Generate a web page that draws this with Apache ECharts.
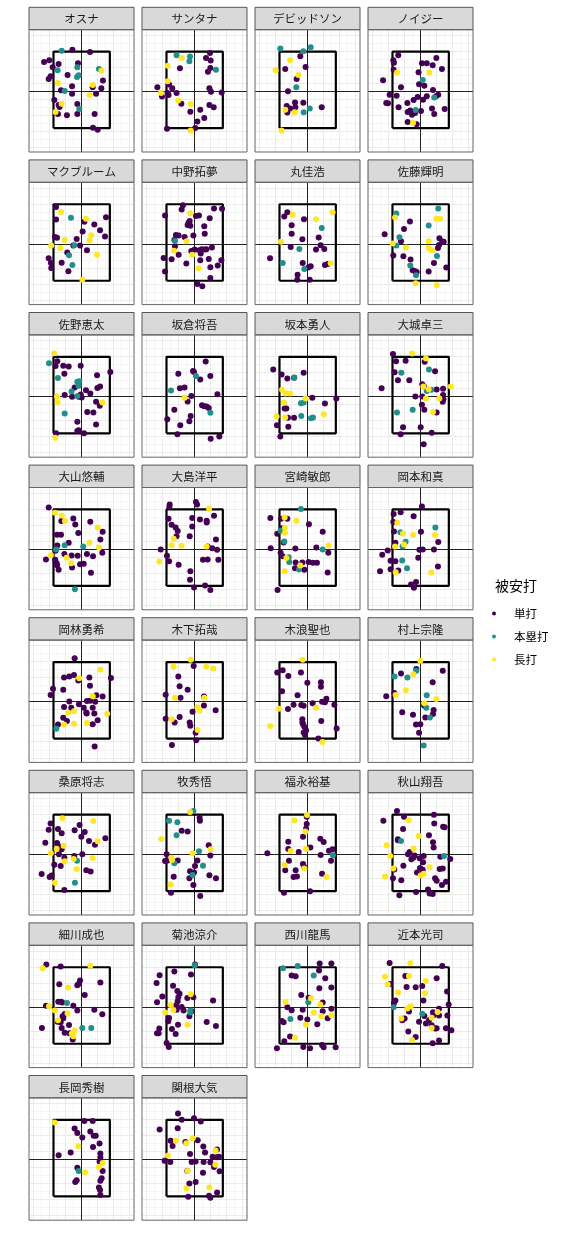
<!DOCTYPE html>
<html><head><meta charset="utf-8">
<script src="https://cdn.jsdelivr.net/npm/echarts@6/dist/echarts.min.js"></script>
<style>html,body{margin:0;padding:0;background:#fff}#c{width:576px;height:1248px}</style>
</head><body><div id="c"></div><script>
const players = ['オスナ','サンタナ','デビッドソン','ノイジー','マクブルーム','中野拓夢','丸佳浩','佐藤輝明','佐野恵太','坂倉将吾','坂本勇人','大城卓三','大山悠輔','大島洋平','宮崎敏郎','岡本和真','岡林勇希','木下拓哉','木浪聖也','村上宗隆','桑原将志','牧秀悟','福永裕基','秋山翔吾','細川成也','菊池涼介','西川龍馬','近本光司','長岡秀樹','関根大気'];
const typeNames = ['単打','本塁打','長打'];
const typeColors = ['#440154','#21908C','#FDE725'];
const zoneX = [-1.76, 1.76];
const zoneY = [-2.3, 2.48];
const xRange = [-3.29, 3.27];
const yRange = [-3.79, 3.85];
const gridStep = 0.5;

const single = [
[[-2.35,1.83],[-2.02,1.94],[-1.81,1.5],[-1.44,1.71],[-0.58,2.6],[0.52,2.46],[-0.23,1.75],[-0.88,1.02],[-1.94,0.94],[-2.06,0.77],[1.33,0.67],[-0.6,0.31],[0.69,0.25],[1.23,0.19],[-1.29,0.06],[-0.6,-0.15],[0.9,-0.15],[-1.71,-0.54],[-1.44,-0.85],[-1.38,-0.98],[-0.27,-0.79],[-1.48,-1.42],[-0.92,-1.5],[-0.27,-1.42],[0.81,-1.42],[0.71,-2.27],[1.0,-2.4]],
[[0.96,2.4],[0.71,2.08],[1.0,1.92],[-0.92,1.44],[0.98,1.46],[0.83,1.23],[-2.33,0.25],[-1.6,0.42],[-1.4,0.19],[-2.04,-0.33],[-1.69,-0.1],[-1.63,-0.23],[-1.13,-0.1],[0.92,0.19],[1.02,-0.02],[1.69,-0.08],[-0.83,-0.77],[0.92,-0.85],[1.19,-1.0],[0.35,-1.15],[-0.27,-1.27],[0.6,-1.67],[0.17,-1.88],[-1.73,-2.33],[0.04,-2.29]],
[[-0.46,2.19],[-0.13,1.52],[-1.4,1.4],[-0.69,0.77],[-1.23,0],[-1.31,-0.92],[-1.1,-1.08],[-0.77,-1.0],[-0.79,-0.69],[-0.27,-0.71],[-1.27,-1.33],[0.88,-1.0]],
[[-1.4,2.25],[-1.71,1.94],[-1.67,1.79],[-1.69,1.35],[0.98,2.08],[0.75,1.63],[1.33,1.4],[0.08,1.75],[0.38,1.75],[-0.13,1.19],[-2.35,0.69],[-1.23,0.25],[-0.1,0.44],[0.77,0.08],[0.23,0.35],[1.1,-0.21],[0.96,-0.31],[-1.94,-0.21],[-1.5,-0.27],[-2.15,-0.73],[-2.04,-0.75],[-1.38,-1.0],[-0.83,-0.73],[-0.44,-0.54],[-0.19,-0.35],[0.15,-0.52],[0.38,-0.31],[-0.81,-1.29],[-0.65,-1.19],[-0.54,-1.46],[-0.35,-1.35],[0.02,-1.23],[0.71,-1.08],[0.85,-1.42],[1.5,-1.1],[-0.81,-1.92],[-0.25,-2.06]],
[[-1.6,2.31],[-1.6,1.52],[-1.67,0.44],[-1.54,0.38],[0.17,1.38],[0.06,0.77],[0.79,1.21],[1.15,0.85],[1.52,1.67],[1.46,0.46],[-0.31,0.31],[-0.1,-0.1],[-0.52,-0.1],[0.33,-0.4],[-0.9,-0.54],[-2.06,-0.9],[-1.92,-1.19],[-1.9,-1.5],[-1.25,-1.17],[-0.83,-1.71]],
[[-0.73,2.42],[-0.81,2.15],[-1.85,1.77],[-0.31,1.44],[0.08,1.75],[0.27,1.77],[-0.44,1.19],[-0.38,1.33],[-0.27,1.13],[0.6,1.1],[0.94,1.6],[1.21,2.21],[1.71,2.19],[0.63,0.63],[-1.17,0.56],[-1.0,0.52],[-0.63,0.44],[-0.08,0.52],[-1.27,0.25],[-1.23,-0.15],[-1.0,-0.67],[-1.94,-0.88],[-1.44,-0.96],[-0.52,-1.23],[0,-0.35],[0.29,-0.4],[0.44,-0.33],[0.63,-0.35],[0.73,-0.33],[0.38,-0.6],[-0.21,-0.44],[1.08,-0.23],[0.35,-1.02],[0.88,-0.94],[0.98,-1.46],[1.44,-1.35],[1.67,-1.02],[-1.85,-1.73],[0.98,-2.13],[0.17,-2.5],[0.48,-2.65]],
[[-1.27,1.98],[-1.46,1.71],[-0.23,1.54],[-1.0,1.17],[-1.0,0.63],[-0.33,0.29],[0.69,0.4],[1.04,-0.31],[-1.06,-0.19],[0.52,-0.35],[0.81,-0.08],[-2.35,-0.9],[-0.31,-1.19],[0.19,-1.4],[0.04,-1.48],[-0.63,-1.92],[-0.65,-2.23],[0.13,-2.23],[1.08,-1.31],[1.25,-1.25]],
[[-0.67,1.4],[-1.04,0.94],[-2.25,0.6],[-1.23,0.17],[1.17,0.35],[1.35,0.15],[1.15,-0.06],[1.44,0.13],[1.08,-0.25],[-1.71,-0.73],[-1.08,-0.77],[-0.63,-0.98],[0.83,-1.19],[-0.5,-1.65],[-0.35,-1.71],[-0.25,-1.75],[0.5,-1.73],[1.6,-1.48]],
[[-1.52,2.21],[-1.63,1.9],[-1.15,1.92],[-0.81,1.88],[-0.06,1.92],[-1.08,1.42],[1.79,1.54],[0.96,1.33],[0.98,0.54],[1.15,0.63],[0.27,0.4],[0.54,0.19],[-0.44,0.56],[-1.06,0.1],[-0.6,-0.02],[-0.19,-0.02],[-0.06,0.13],[0,-0.06],[0.9,-0.33],[1.13,-0.58],[0.35,-0.96],[0.73,-1.0],[-0.27,-1.58],[0.9,-1.75],[-0.19,-2.1],[-0.27,-2.15],[0.15,-2.29],[-1.6,-2.29]],
[[0.69,2.19],[-1.02,1.42],[-0.1,1.6],[-0.04,1.54],[0.35,1.06],[0.98,1.29],[-0.92,0.52],[-0.63,0.56],[-0.21,0.04],[1.42,0.15],[-0.44,-0.31],[-1.27,-0.83],[0.46,-0.54],[0.6,-0.6],[0.75,-0.63],[0.88,-0.71],[-0.25,-1.21],[-1.71,-1.42],[-0.33,-1.54],[-0.9,-1.79],[-1.08,-2.35],[1.0,-2.63],[1.54,-2.5]],
[[-2.15,1.69],[-1.63,1.38],[-1.27,1.13],[-0.85,1.17],[-0.25,1.48],[0.29,-0.08],[1.79,-0.13],[1.08,-0.44],[-1.44,-0.75],[-1.33,-0.75],[-1.92,-1.79],[-1.23,-1.33],[-0.85,-1.33],[-1.21,-1.88],[-1.71,-2.5]],
[[-1.73,2.65],[-1.54,2.21],[-0.94,2.23],[0.25,2.17],[-1.63,1.52],[-1.42,1.02],[-0.71,1.02],[0.9,1.58],[-2.44,0.52],[0.1,0.77],[0.21,0.63],[1.0,0.44],[1.4,0.48],[-0.33,0],[0.1,0],[1.4,0.1],[1.42,-0.17],[1.38,-0.33],[0.08,-0.52],[0.23,-0.83],[1.0,-1.0],[-1.1,-1.92],[0,-1.92],[0.69,-2.27],[-1.25,-2.35],[0.19,-2.98]],
[[-2.06,2.6],[-1.27,1.75],[-0.52,1.92],[-0.4,1.54],[0.54,1.71],[-0.21,1.0],[1.31,1.08],[1.17,0.6],[1.29,-0.23],[-1.54,0.9],[-1.29,0.9],[-0.81,0.4],[-1.52,0.23],[-1.63,-0.1],[-1.08,-0.31],[-0.63,-0.4],[-0.25,-0.42],[0.33,-0.31],[0.71,-0.44],[-0.1,-0.94],[0.13,-0.92],[-2.23,-0.65],[-1.65,-0.67],[-1.56,-0.88],[-1.54,-1.0],[-1.44,-1.29],[-0.6,-1.15],[0.58,-1.48]],
[[-1.56,2.79],[-1.58,2.63],[0.08,2.94],[0.15,2.79],[-1.63,1.9],[-1.44,1.52],[-1.19,1.35],[-1.06,1.13],[-1.13,0.81],[-0.15,1.94],[0.33,1.85],[0.75,1.77],[0.75,1.67],[1.21,2.08],[-0.15,1.42],[-0.31,0.81],[1.33,0.6],[0.81,0.17],[1.1,0.06],[1.4,-0.04],[-2.12,-0.02],[-1.73,-0.42],[-1.6,-0.75],[-1.0,-0.98],[-0.27,-1.38],[-0.29,-1.92],[-0.04,-2.4],[0.52,-0.67],[0.81,-0.65],[1.48,-0.67],[0.65,-2.27],[0.98,-2.56]],
[[-2.33,1.94],[-1.67,1.9],[-1.27,1.9],[0.08,1.56],[0.94,1.08],[-1.63,1.31],[-1.9,0.96],[-1.5,0.42],[-0.77,0.04],[0.54,0.1],[1.29,-0.23],[-2.31,0.06],[-1.69,-0.23],[-1.56,-0.44],[-0.75,-0.83],[-0.33,-0.83],[-0.21,-1.29],[0.06,-0.81],[0.33,-0.85],[0.58,-0.85],[-0.79,-1.19],[1.25,-1.46],[-1.88,-2.56]],
[[0.08,2.67],[-1.69,2.19],[-1.25,2.31],[-0.44,2.06],[-1.71,1.69],[-1.67,1.1],[0.02,1.08],[-1.58,0.4],[-1.65,0.13],[1.1,0.44],[0.83,-0.02],[-0.08,-0.04],[0.13,-0.02],[-2.06,-0.08],[-2.4,-0.35],[-1.88,-0.73],[-1.58,-0.75],[-1.4,-1.33],[-1.88,-1.25],[-2.54,-1.38],[-0.15,-0.54],[1.08,-1.08],[-0.6,-2.21],[-0.42,-2.42],[-0.29,-2.06]],
[[-0.44,2.71],[-1.1,1.52],[-0.77,1.58],[-0.48,1.67],[-0.21,1.33],[0.48,1.52],[1.83,1.48],[0.52,1.0],[-1.79,0.81],[-1.15,0.75],[-1.94,0.42],[0.92,0.4],[1.31,0.33],[-0.77,0.02],[-0.17,-0.15],[0.33,0.04],[0.54,0.06],[0.85,0],[-1.1,-0.33],[-0.65,-0.38],[0.13,-0.38],[0.69,-0.38],[0.29,-0.67],[0.31,-0.73],[0.79,-0.73],[-1.15,-1.0],[-0.92,-1.21],[-1.48,-1.42],[0.69,-1.4],[1.0,-1.15],[0.81,-2.79]],
[[-0.06,2.23],[-1.02,1.58],[-0.94,0.96],[-0.44,0.75],[-0.88,0.25],[-1.81,0.44],[0.58,0.33],[0.58,-0.23],[1.31,-0.54],[-0.13,-0.63],[-0.94,-0.96],[-1.25,-1.29],[-1.81,-1.06],[-0.31,-1.29],[-0.27,-1.5],[0.06,-1.94],[0.1,-2.4],[-1.42,-2.71]],
[[-1.9,1.83],[-1.56,1.96],[-1.21,1.6],[-0.42,1.83],[-0.02,1.19],[0.83,1.21],[0.83,0.94],[-1.6,0.65],[-0.63,0.4],[1.17,0.19],[1.08,-0.04],[1.67,-0.19],[-0.88,-0.19],[-0.4,-0.21],[-0.25,-0.25],[0.31,-0.1],[0.9,0],[-1.23,-0.46],[-0.33,-1.1],[-0.33,-1.29],[-0.29,-1.4],[-0.21,-1.56],[-0.1,-1.79],[-0.25,-1.92],[-0.17,-2.08],[0.85,-1.21],[0.67,-2.29],[1.81,-1.67]],
[[1.38,1.94],[-1.23,1.77],[0.75,1.21],[-2.15,0.35],[-1.65,0.54],[-1.15,-0.65],[-0.48,-0.81],[-0.29,-1.42],[-0.02,-1.4],[-0.1,-1.94],[0.21,-0.23],[0.81,-0.52],[0.77,-0.77],[0.29,-0.98],[-0.27,2.04]],
[[-1.94,1.92],[-2.06,1.54],[-1.48,1.58],[-1.25,1.31],[-0.44,1.5],[-0.13,1.83],[0.19,1.4],[-0.02,1.1],[0.46,0.83],[0.83,0.6],[1.48,1.0],[-2.27,0.73],[-1.54,0.71],[-1.46,0.52],[-1.25,0.31],[-1.42,0],[-0.46,-0.1],[0.04,0],[-1.08,-0.21],[-1.71,-0.65],[-1.31,-0.73],[0.29,-1.0],[0.56,-1.08],[-2.5,-1.23],[-2.0,-1.42],[-1.88,-1.33],[-1.08,-2.23]],
[[0.31,2.29],[0.33,2.1],[-0.81,1.48],[-0.44,1.42],[0.88,0.56],[-1.75,0],[-1.85,-0.42],[-1.69,-0.38],[-1.06,-0.38],[0.17,-0.38],[0.98,-0.08],[0.02,-0.73],[-0.29,-1.06],[-0.04,-1.13],[-0.33,-1.5],[-0.08,-1.92],[0.92,-1.31],[1.33,-1.5],[-1.31,-1.4],[-1.48,-2.4],[0.35,-2.6]],
[[-0.06,2.35],[-0.06,1.9],[-0.1,1.6],[-0.29,1.1],[-1.21,0.79],[-1.21,0.33],[-0.56,0.15],[0.17,0.42],[0.79,0.98],[1.0,0.77],[1.33,0.23],[1.56,0.31],[0.81,-0.04],[1.46,-0.4],[-1.17,-0.4],[-2.52,0.06],[-0.29,-0.6],[-0.21,-0.79],[-1.4,-1.0],[-0.75,-1.0],[-0.88,-1.42],[-0.67,-1.38],[0.9,-1.21],[-1.48,-2.4],[0.15,-2.31]],
[[-1.48,2.71],[-2.33,2.1],[-1.04,2.35],[0.83,2.48],[0.85,1.92],[1.4,1.73],[1.5,1.69],[-1.1,1.58],[0.52,1.19],[-1.42,0.94],[-1.42,0.88],[0.77,0.75],[0.81,0.42],[-0.69,0.15],[-0.79,0],[-0.46,-0.21],[-0.38,-0.08],[-0.58,-0.31],[-0.06,-0.25],[0.19,-0.1],[1.23,-0.15],[1.85,-0.29],[0.15,-0.5],[-0.04,-0.85],[0.13,-0.96],[-1.08,-0.71],[-1.65,-0.94],[-0.23,-1.13],[1.19,-0.92],[1.38,-0.88],[0.9,-1.5],[1.0,-1.65],[1.58,-1.71],[1.33,-1.92],[-1.73,-1.5],[-1.21,-1.62],[0.46,-2.19],[0.56,-2.44],[0.75,-2.48],[-0.29,-2.35],[-1.33,-2.56]],
[[-2.21,2.65],[-1.31,2.52],[-1.4,1.42],[-0.27,1.35],[-0.1,1.65],[-0.19,1.44],[1.17,1.52],[0.19,0.75],[-1.46,0.33],[-1.29,0.33],[-1.21,0.27],[-0.52,0.08],[-2.23,0.08],[-0.27,-0.23],[0.79,-0.17],[1.29,-0.46],[-1.06,-0.44],[-1.19,-0.58],[-1.15,-0.71],[-1.31,-0.96],[-1.25,-1.31],[-0.79,-1.13],[-1.06,-1.62],[-0.77,-1.65],[-0.56,-2.04],[-2.48,-1.31],[-1.5,-0.92]],
[[0.02,2.65],[-1.27,2.21],[-0.23,2.02],[-2.19,1.98],[-2.38,1.5],[-1.35,1.33],[-1.08,1.0],[-0.94,0.83],[-1.02,0.6],[-0.46,0.56],[-0.08,0.6],[-2.02,0.65],[-1.06,0.35],[-1.15,0.1],[-0.81,0],[-2.35,0.29],[1.15,0.4],[-1.12,-0.17],[-0.69,-0.23],[-0.19,-0.27],[-1.6,-0.69],[-1.65,-0.9],[-1.04,-1.12],[-1.42,-1.38],[-2.21,-1.35],[-2.35,-1.65],[-2.25,-1.65],[-1.19,-1.69],[-0.33,-0.58],[0.75,-0.94],[1.33,-1.19],[-1.75,-2.25],[-1.62,-2.5]],
[[0.75,2.71],[1.48,2.71],[-1.0,1.96],[-0.75,1.92],[0.71,2.27],[1.1,1.79],[0.73,1.17],[1.48,1.21],[-0.4,0.75],[0.06,0.58],[0.94,0.27],[-1.27,-0.02],[-1.0,-0.21],[-0.31,-0.17],[0.94,-0.27],[1.48,-0.12],[-1.62,-0.88],[-1.5,-0.96],[-0.46,-0.67],[-0.02,-0.79],[0.6,-1.08],[1.25,-0.71],[-1.1,-1.85],[-1.46,-2.15],[-0.27,-2.5],[0.15,-2.58],[0.9,-2.38],[1.0,-2.52],[1.75,-2.52],[-1.92,-2.58]],
[[-1.94,2.75],[1.35,2.56],[-0.96,1.94],[1.0,1.79],[-1.9,1.44],[-0.88,1.25],[-0.31,1.23],[0.1,1.31],[1.65,0.96],[-1.58,0.4],[-1.67,0.25],[0.17,0.4],[-0.73,-0.29],[-1.0,-0.73],[-1.15,-0.83],[-0.1,-0.92],[0.23,-0.56],[0.52,-0.83],[0.77,-0.33],[1.15,-0.12],[1.75,0.15],[0.79,-0.54],[1.15,-0.54],[1.67,-0.54],[0.33,-1.04],[0.69,-1.15],[0.92,-1.35],[1.0,-1.33],[1.58,-1.33],[1.92,-1.46],[-0.77,-1.54],[-0.31,-1.88],[1.15,-2.1],[0.75,-2.27]],
[[0.17,2.4],[0.69,2.4],[-0.44,1.94],[-0.27,1.65],[0.54,1.75],[0.04,1.38],[0.75,1.48],[0.88,1.48],[1.12,1.0],[0.71,0.79],[-0.69,0.44],[-1.44,0.27],[1.17,0.38],[1.17,0.12],[1.12,-0.12],[-0.27,-0.52],[1.31,-0.71],[1.25,-1.17],[1.17,-1.33],[-0.31,-1.29],[-0.4,-1.4],[1.08,-1.75],[1.15,-1.9],[1.17,-2.21]],
[[-1.04,2.88],[-0.81,2.48],[-0.04,2.58],[0.38,2.38],[-2.19,1.88],[-1.06,1.96],[-0.58,1.1],[-1.5,1.17],[-1.38,0.85],[0.19,1.21],[0.54,0.81],[0.65,0.44],[1.4,0.62],[1.38,0.15],[1.12,0.17],[1.52,0.17],[-0.29,0.35],[-1.88,-0.08],[-1.52,-0.15],[-0.19,-0.15],[0.06,-0.12],[0.56,-0.15],[0.98,-0.17],[1.21,-0.46],[1.56,-0.73],[-0.46,-0.71],[0.52,-0.83],[0.06,-1.4],[-0.33,-1.5],[0.9,-2.27],[0.98,-2.38],[1.4,-2.06],[-0.4,-2.33]]
];

const homer = [
[[-1.25,2.54],[-0.27,1.5],[-1.5,1.31],[1.08,1.4],[-0.19,1.0],[-0.29,0.9],[-1.06,0.02],[-0.15,-1.1]],
[[-1.13,2.25],[-0.29,2.17],[-0.33,1.88],[1.33,1.35]],
[[-1.71,2.67],[-0.27,2.5],[0.19,2.75],[-0.71,0.25],[0.13,-1.08],[-0.25,-1.31]],
[[0.13,0.71],[0.85,-0.38],[-0.31,-1.17]],
[[-0.67,1.63],[-0.46,-0.08],[-0.79,-0.71],[-0.58,-1.31]],
[[-1.23,0.19]],
[[0.88,1.0],[-0.52,-0.31],[-1.56,-1.19],[-0.21,-1.56]],
[[1.1,2.21],[-1.52,1.9],[0.5,1.15],[-1.33,0.42],[-1.52,-0.1],[1.02,-0.75],[-0.65,-1.35],[-0.29,-1.96]],
[[-2.04,2.08],[-1.48,1.15],[-0.27,0.92],[-0.15,0.96],[-0.19,0.67],[-0.63,0.31],[-1.06,-1.06],[-0.27,0.04]],
[[0.08,1.29],[-1.48,0.38],[0.98,-1.02]],
[[-0.83,1.19],[-0.42,-0.42],[-0.25,-0.38],[-0.4,-1.21],[0.21,-1.35],[0.33,-1.31]],
[[-1.21,1.48],[0.52,1.69],[0.67,0.42],[0.38,0.35],[-1.48,-1.0],[-0.5,-0.83]],
[[-1.06,0.25],[0.1,0.17],[-0.42,-2.5],[-1.6,-0.02]],
[],
[[-0.42,2.5],[-1.69,1.15],[-1.46,0.48],[-1.19,-0.5],[-1.15,-0.81],[0.94,-0.02],[-0.54,-1.27]],
[[0.92,1.35],[-1.27,1.06],[-0.94,0.46],[-1.13,0.17],[-1.15,-0.71],[-0.85,-1.19]],
[[-1.58,-1.69]],
[],
[],
[[-1.63,1.58],[-0.83,1.52],[-0.27,1.94],[0.38,0.4],[0.35,-0.38],[0.58,-0.98],[0.19,-2.73]],
[[-0.29,-0.4],[-0.42,-1.77]],
[[-0.08,2.71],[-1.6,2.1],[-1.08,2.0],[-1.13,1.19],[0.27,0.19],[-1.27,-0.56],[0.52,-0.71],[-0.13,-1.29]],
[[1.58,-0.06]],
[[-1.23,0.83],[1.46,-0.1]],
[[-0.92,0.25],[0.04,-1.31],[0.6,-1.31]],
[[0,2.6],[-0.27,-0.23],[-0.27,-0.35]],
[[-1.54,2.42],[-0.62,2.56],[0.38,1.96],[0.04,0.29],[-1.08,-0.75]],
[[-1.69,-0.02],[0.1,-0.42]],
[[-0.19,-0.71]],
[]
];

const extra = [
[[1.23,1.29],[-1.48,0.52],[0.69,0.4],[0.5,-0.23],[-1.25,-0.77],[-1.63,-1.29]],
[[-0.81,2.08],[-1.69,1.6],[-1.69,0.63],[-2.1,-0.1],[-1.02,-0.58],[-0.25,-0.79],[-0.25,-2.44]],
[[-2.0,1.31],[-1.1,1.94],[-0.58,1.02],[-1.4,-1.15],[-0.81,-1.31],[-1.63,-2.44]],
[[-1.48,1.17],[0.54,1.17],[-0.48,-1.98]],
[[-1.29,2.0],[0.27,1.58],[0.6,0.54],[0.5,0.23],[-1.06,0.25],[-1.9,-0.1],[-1.33,-0.25],[0.96,-0.67],[0.04,-2.23]],
[[-0.27,1.92],[-0.5,0.17],[-1.29,-0.42],[-0.15,-0.67],[0.25,-1.52]],
[[-0.94,1.83],[0.52,1.54],[1.56,1.98],[-1.67,0.13],[1.44,-1.21]],
[[-1.6,1.65],[0.98,1.58],[1.21,1.58],[0.5,0.17],[-1.75,0.02],[-0.92,-0.23],[0.5,-0.25],[0.71,-0.4],[-0.31,-2.46],[1.0,-2.58]],
[[-1.73,2.71],[-1.54,0],[-1.5,-0.38],[1.29,-0.38],[-1.65,-2.58]],
[[-0.63,-0.08]],
[[-1.6,0.42],[-1.38,0.19],[-1.1,0.19],[-1.48,-0.38],[-1.94,-1.25],[-1.4,-1.31],[1.0,-1.1],[-0.13,-0.13]],
[[-0.54,2.69],[0.33,2.38],[0.17,0.63],[0.5,0.46],[1.88,0.63],[0.33,-0.13],[1.17,-0.13],[0.77,-0.96]],
[[-1.67,2.27],[-1.25,2.1],[-1.04,1.75],[1.0,1.35],[0.48,0.4],[1.08,0.1],[-1.92,-0.38],[-0.94,-0.54],[-0.65,-0.88]],
[[0.9,2.52],[-1.31,0.65],[-1.44,0.25],[-0.81,0.21],[0.75,0.17],[-2.21,-0.77]],
[[-1.44,1.98],[-0.71,1.77],[-1.42,1.33],[-1.42,1.02],[1.31,0.23],[-1.33,-0.56],[-0.46,-1.02],[-1.44,-1.38]],
[[-1.46,1.65],[-1.1,0.98],[-0.46,0.88],[0.9,0.88],[-1.6,0.17],[-1.04,0.29],[-1.56,-1.44],[0.67,-1.46]],
[[1.17,2.0],[-0.15,1.46],[0.69,0.35],[-0.85,-0.69],[-0.48,-0.6],[1.6,-0.75],[-1.1,-1.42],[-0.48,-1.38],[0.33,-1.33]],
[[-0.25,2.63],[-1.31,2.19],[0.73,2.19],[1.17,2.08],[-1.23,0.25],[0.6,0.25],[0.17,-0.35],[0.31,-0.56],[-1.44,-1.1],[0.19,-1.77]],
[[-0.31,2.63],[-1.79,-0.44],[0.52,-0.38],[-2.33,-1.52],[0.92,-2.52]],
[[-0.02,2.56],[-0.46,1.71],[-0.92,0.71],[-1.56,0.42],[0.98,0.17],[0.23,-0.1]],
[[-1.21,2.25],[0.73,2.08],[1.0,0.81],[-1.13,0.54],[-1.56,0.35],[-1.92,0.06],[-1.06,-0.44],[-0.5,-0.29],[0.69,-0.23],[-0.31,-0.92],[-1.67,-1.77]],
[[-0.29,2.65],[-2.08,0.96],[1.0,0.31],[-1.46,-0.21],[-1.42,-0.35],[-0.13,0.06],[-1.5,-1.88]],
[[-0.83,2.11],[-1.06,0.21],[-0.1,0.33],[-1.44,-0.67],[-0.21,-0.88],[1.17,-1.42],[-0.04,2.46],[-0.15,1.42]],
[[-0.75,2.13],[-0.12,1.15],[-0.44,0.35],[-2.13,0.56],[-1.9,-0.1],[-1.71,-0.88],[-2.23,-1.38],[0.56,-0.81],[0.19,-1.21],[0,-1.33]],
[[-2.44,2.42],[0.54,2.58],[-0.85,1.21],[-2.04,0.04],[-1.67,-0.23],[-0.88,-0.4],[-1.48,-0.83],[-0.44,-1.48],[-0.62,-1.67],[-0.52,-1.83]],
[[-0.25,0.79],[-1.5,0.12],[-1.33,-0.19],[-1.83,-0.35],[-0.44,-1.12]],
[[0.21,0.54],[-1.38,0.31],[0.79,0.15],[0.38,-0.35],[0.85,-0.56],[1.48,-0.52],[-0.1,-1.12],[-0.79,-1.92]],
[[-0.65,2.73],[-2.23,1.88],[-2.06,1.4],[-0.73,1.94],[0.31,1.62],[-1.42,0.9],[0.27,0.85],[-0.62,0.04],[-0.83,-0.1],[1.06,-0.31],[0.69,-0.67],[-1.21,-0.73],[0.69,-1.31],[-0.54,-2.06]],
[[-1.69,2.31],[-0.21,0.83],[1.31,-0.21],[1.08,-0.46],[0.21,-0.79]],
[[-1.17,1.17],[-0.52,1.02],[-0.12,1.33],[-1.67,0.25],[1.31,0.56],[1.29,-0.33],[-0.44,-0.71],[-0.52,-1.81],[0.92,-1.75]]
];

// layout (pixels)
const L0 = 29, CW = 113, PW = 105, T0 = 7.3, RH = 152.6, SH = 22.4, PH = 122.3;
const FONT = '"Noto Sans CJK JP", "Noto Sans", sans-serif';

const MAJOR = { color: '#EBEBEB', width: 1, type: 'solid' };
const MINOR = { color: '#F6F6F6', width: 1, type: 'solid' };
const CROSS = { color: '#222', width: 1, type: 'solid' };

function stepsIn(range) {
  const out = [];
  for (let k = Math.ceil(range[0] / gridStep); k * gridStep <= range[1]; k++) out.push(k);
  return out;
}
// x: majors at whole units; y: majors at half units (offset from the crosshair)
const gridLineData = [];
stepsIn(xRange).forEach(k => { if (k !== 0 && k % 2 !== 0) gridLineData.push({ xAxis: k * gridStep, lineStyle: MINOR }); });
stepsIn(yRange).forEach(k => { if (k !== 0 && k % 2 === 0) gridLineData.push({ yAxis: k * gridStep, lineStyle: MINOR }); });
stepsIn(xRange).forEach(k => { if (k !== 0 && k % 2 === 0) gridLineData.push({ xAxis: k * gridStep, lineStyle: MAJOR }); });
stepsIn(yRange).forEach(k => { if (k % 2 !== 0) gridLineData.push({ yAxis: k * gridStep, lineStyle: MAJOR }); });
gridLineData.push({ xAxis: 0, lineStyle: CROSS });
gridLineData.push({ yAxis: 0, lineStyle: CROSS });

const grid = [], xAxis = [], yAxis = [], series = [], graphic = [];
const groups = [single, homer, extra];

players.forEach((name, i) => {
  const c = i % 4, r = Math.floor(i / 4);
  const left = L0 + c * CW;
  const stripTop = T0 + r * RH;
  const top = stripTop + SH;
  grid.push({ left: left, top: top, width: PW, height: PH, show: false });
  const common = {
    type: 'value', gridIndex: i,
    axisLabel: { show: false }, axisTick: { show: false },
    axisLine: { show: false }, splitLine: { show: false }
  };
  xAxis.push(Object.assign({}, common, { min: xRange[0], max: xRange[1] }));
  yAxis.push(Object.assign({}, common, { min: yRange[0], max: yRange[1] }));
  series.push({
    type: 'line', xAxisIndex: i, yAxisIndex: i, silent: true, symbol: 'none', data: [], z: 1,
    markLine: {
      z: 1, silent: true, animation: false, symbol: ['none', 'none'], label: { show: false },
      emphasis: { disabled: true }, data: gridLineData
    }
  });
  series.push({
    type: 'line', xAxisIndex: i, yAxisIndex: i, silent: true, symbol: 'none',
    data: [[zoneX[0], zoneY[0]], [zoneX[1], zoneY[0]], [zoneX[1], zoneY[1]], [zoneX[0], zoneY[1]], [zoneX[0], zoneY[0]]],
    lineStyle: { color: '#000', width: 2.2 }, z: 3
  });
  groups.forEach((g, k) => {
    series.push({
      type: 'scatter', name: typeNames[k], xAxisIndex: i, yAxisIndex: i,
      data: g[i], symbolSize: 6, itemStyle: { color: typeColors[k], opacity: 1 }, z: 4
    });
  });
  graphic.push({
    type: 'rect', silent: true, z: 100,
    shape: { x: left, y: stripTop, width: PW, height: SH },
    style: { fill: '#D9D9D9', stroke: '#555', lineWidth: 1 }
  });
  graphic.push({
    type: 'text', silent: true, z: 101, x: left + PW / 2, y: stripTop + SH / 2 + 0.5,
    style: { text: name, fill: '#1A1A1A', fontSize: 11.5, fontFamily: FONT, align: 'center', verticalAlign: 'middle' }
  });
  graphic.push({
    type: 'rect', silent: true, z: 100,
    shape: { x: left, y: top, width: PW, height: PH },
    style: { fill: 'none', stroke: '#666', lineWidth: 1 }
  });
});

const chart = echarts.init(document.getElementById('c'), null, { renderer: 'canvas', width: 576, height: 1248 });
chart.setOption({
  backgroundColor: '#fff',
  animation: false,
  title: { text: '被安打', left: 495, top: 579, padding: 0, textStyle: { fontSize: 14, fontWeight: 'normal', color: '#000', fontFamily: FONT } },
  legend: {
    data: typeNames, orient: 'vertical', left: 492, top: 602, padding: 0, itemGap: 0,
    itemWidth: 30, itemHeight: 4, icon: 'circle', selectedMode: false,
    textStyle: { fontSize: 11.5, lineHeight: 23, color: '#000', fontFamily: FONT }
  },
  grid: grid, xAxis: xAxis, yAxis: yAxis, series: series, graphic: graphic
});
</script></body></html>
